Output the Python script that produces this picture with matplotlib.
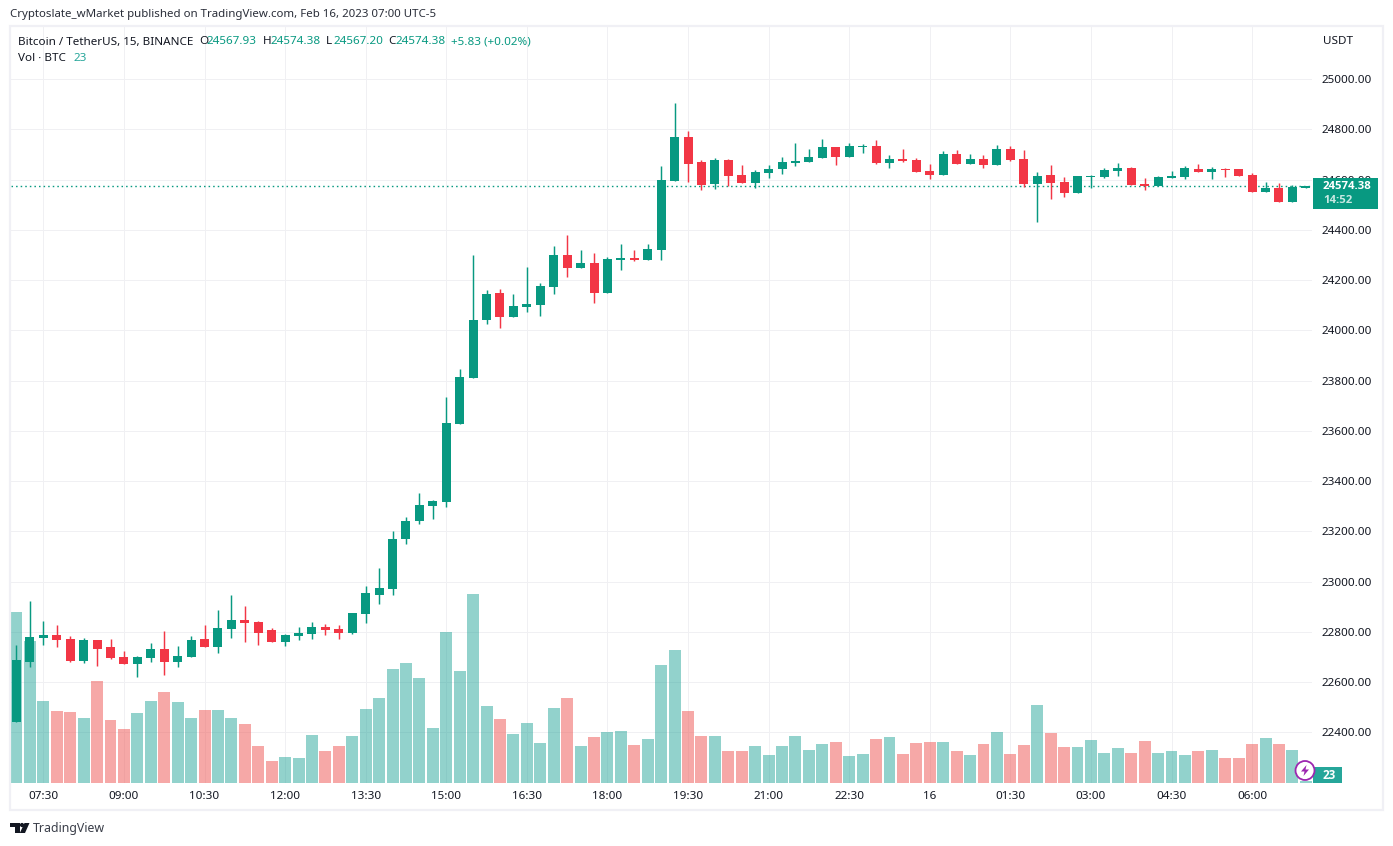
import numpy as np
import matplotlib
matplotlib.use("Agg")
import matplotlib.pyplot as plt
from matplotlib.patches import Rectangle, Circle, Polygon

# --- BTC/USDT 15 min, precios ---
OPENS = [22441, 22681, 22777, 22789, 22773, 22685, 22769, 22741, 22701, 22673,
         22697, 22733, 22681, 22701, 22773, 22741, 22809, 22845, 22837, 22805,
         22761, 22785, 22793, 22817, 22809, 22797, 22869, 22948, 22972, 23170,
         23242, 23301, 23317, 23627, 23809, 24041, 24149, 24053, 24093, 24101,
         24173, 24300, 24248, 24268, 24149, 24280, 24288, 24280, 24320, 24595,
         24770, 24671, 24583, 24679, 24617, 24585, 24625, 24641, 24665, 24669,
         24685, 24729, 24689, 24729, 24733, 24665, 24681, 24677, 24633, 24617,
         24701, 24661, 24681, 24657, 24721, 24681, 24581, 24617, 24590, 24546,
         24609, 24609, 24633, 24644, 24582, 24574, 24605, 24609, 24641, 24629,
         24641, 24641, 24617, 24550, 24566, 24511, 24567.93]
HIGHS = [22749, 22922, 22841, 22825, 22785, 22777, 22769, 22773, 22725, 22705,
         22757, 22801, 22745, 22785, 22825, 22885, 22946, 22902, 22841, 22813,
         22793, 22817, 22837, 22829, 22825, 22873, 22982, 23055, 23202, 23258,
         23353, 23325, 23734, 23845, 24300, 24161, 24165, 24145, 24252, 24189,
         24336, 24380, 24320, 24308, 24292, 24344, 24320, 24344, 24655, 24906,
         24794, 24679, 24687, 24683, 24657, 24637, 24657, 24689, 24745, 24721,
         24761, 24729, 24745, 24741, 24757, 24697, 24721, 24685, 24661, 24713,
         24717, 24701, 24697, 24737, 24733, 24717, 24629, 24656, 24609, 24613,
         24617, 24644, 24664, 24648, 24605, 24613, 24633, 24652, 24660, 24648,
         24644, 24641, 24625, 24590, 24586, 24578, 24574.38]
LOWS = [22441, 22661, 22749, 22741, 22681, 22677, 22665, 22693, 22673, 22621,
        22681, 22629, 22661, 22701, 22741, 22717, 22777, 22761, 22749, 22761,
        22745, 22769, 22773, 22789, 22773, 22793, 22833, 22912, 22948, 23151,
        23230, 23250, 23297, 23627, 23809, 24025, 24009, 24053, 24073, 24057,
        24145, 24212, 24248, 24109, 24149, 24240, 24276, 24280, 24280, 24595,
        24591, 24559, 24563, 24575, 24585, 24565, 24605, 24621, 24653, 24669,
        24685, 24657, 24689, 24705, 24661, 24645, 24669, 24629, 24601, 24617,
        24661, 24661, 24645, 24657, 24673, 24569, 24429, 24523, 24531, 24546,
        24566, 24605, 24613, 24578, 24558, 24574, 24605, 24601, 24629, 24601,
        24609, 24613, 24550, 24550, 24511, 24511, 24567.20]
CLOSES = [22689, 22781, 22789, 22769, 22685, 22769, 22733, 22697, 22673, 22701,
          22733, 22681, 22705, 22769, 22741, 22813, 22845, 22833, 22797, 22761,
          22789, 22797, 22817, 22805, 22797, 22873, 22954, 22976, 23170, 23242,
          23305, 23321, 23631, 23813, 24041, 24145, 24053, 24097, 24105, 24177,
          24300, 24248, 24268, 24149, 24284, 24288, 24280, 24324, 24599, 24770,
          24663, 24579, 24679, 24615, 24585, 24629, 24641, 24669, 24673, 24689,
          24729, 24689, 24733, 24733, 24665, 24681, 24673, 24629, 24617, 24701,
          24661, 24681, 24657, 24721, 24677, 24581, 24613, 24586, 24546, 24613,
          24613, 24637, 24644, 24578, 24574, 24609, 24613, 24644, 24629, 24641,
          24637, 24613, 24550, 24566, 24511, 24570, 24574.38]
VOLUMES = [2560, 2125, 1225, 1075, 1060, 970, 1525, 940, 805, 1045,
           1225, 1360, 1210, 970, 1090, 1090, 970, 880, 550, 325,
           385, 370, 715, 475, 550, 700, 1105, 1270, 1705, 1795,
           1570, 820, 2260, 1675, 2835, 1155, 960, 735, 900, 600,
           1125, 1275, 555, 690, 765, 780, 570, 660, 1770, 1995,
           1080, 705, 705, 480, 480, 555, 420, 555, 705, 495,
           585, 615, 405, 435, 660, 690, 435, 600, 615, 615,
           480, 420, 585, 765, 435, 570, 1170, 750, 540, 540,
           645, 450, 525, 450, 630, 450, 480, 420, 480, 495,
           375, 375, 585, 675, 585, 495, 23]

TIME_LABELS = ["07:30", "09:00", "10:30", "12:00", "13:30", "15:00", "16:30", "18:00",
               "19:30", "21:00", "22:30", "16", "01:30", "03:00", "04:30", "06:00"]
PRICE_TICKS = list(range(22400, 25001, 200))
LAST_PRICE = 24574.38

GREEN = "#089981"
RED = "#f23645"
VOL_GREEN = "#26a69a"
VOL_RED = "#ef5350"
GRID = "#f0f0f3"
TEXT = "#131722"

plt.rcParams["font.family"] = ["Noto Sans", "DejaVu Sans"]
FS = 8.4

W, H = 1393, 846
fig = plt.figure(figsize=(W / 100, H / 100), dpi=100, facecolor="white")

# zona del grafico en pixeles: x 10.5-1312, y 27-783
L, R, T, B = 10.5, 1312, 27, 783
ax = fig.add_axes([L / W, 1 - B / H, (R - L) / W, (B - T) / H])
vol = ax.twinx()
ax.set_zorder(vol.get_zorder() + 1)
ax.patch.set_visible(False)
vol.patch.set_facecolor("white")

x = np.arange(len(CLOSES))
o, h, l, c = map(np.array, (OPENS, HIGHS, LOWS, CLOSES))
up = c >= o
time_ticks = x[2::6][:len(TIME_LABELS)]

# velas
colors = np.where(up, GREEN, RED)
ax.vlines(x, l, h, colors=colors, lw=1.05, zorder=3)
ax.bar(x, np.abs(c - o), bottom=np.minimum(o, c), width=0.67, color=colors, lw=0, zorder=4)
ax.axhline(LAST_PRICE, color=GREEN, lw=1.0, ls=(0, (1.1, 2.2)), zorder=2)

ax.set_xlim(-0.4467, 96.46)
ax.set_ylim(22198, 25207)
ax.set_yticks(PRICE_TICKS)
ax.set_yticklabels([f"{p}.00" for p in PRICE_TICKS])
ax.yaxis.tick_right()
ax.set_xticks(time_ticks)
ax.set_xticklabels(TIME_LABELS)
ax.tick_params(axis="both", length=0, labelsize=FS, labelcolor=TEXT)
ax.tick_params(axis="y", pad=7.2)
ax.tick_params(axis="x", pad=6.0)
for s in ax.spines.values():
    s.set_visible(False)

# volumen, detras de las velas
vol.bar(x, VOLUMES, width=0.89, color=np.where(up, VOL_GREEN, VOL_RED), alpha=0.5, lw=0, zorder=3)
vol.set_ylim(0, 11340)
vol.set_yticks([])
for t in time_ticks:
    vol.axvline(t, color=GRID, lw=0.72, zorder=1)
for p in PRICE_TICKS:
    yy = (p - 22198) / (25207 - 22198) * 11340
    vol.axhline(yy, color=GRID, lw=0.72, zorder=1)
for s in vol.spines.values():
    s.set_visible(False)

# capa en pixeles para marco, rotulos y logo
ov = fig.add_axes([0, 0, 1, 1], zorder=10)
ov.set_xlim(0, W)
ov.set_ylim(H, 0)
ov.axis("off")
ov.patch.set_alpha(0)

ov.add_patch(Rectangle((9.5, 26.5), 1373, 784, fill=False, ec="#f0f0f5", lw=1.6))


def label(px, py, s, color=TEXT, size=FS, **kw):
    ov.text(px, py, s, color=color, fontsize=size, va="center", **kw)


label(10, 14.5, "Cryptoslate_wMarket published on TradingView.com, Feb 16, 2023 07:00 UTC-5", color="#2a2e39", size=8.28)
label(18, 42, "Bitcoin / TetherUS, 15, BINANCE")
for px, key, val in [(199, "O", "24567.93"), (263, "H", "24574.38"), (326, "L", "24567.20"), (388, "C", "24574.38")]:
    label(px, 42, key)
    label(px + 7.5, 42, val, color=GREEN)
label(451, 42, "+5.83 (+0.02%)", color=GREEN)
label(18, 58.5, "Vol · BTC")
label(74, 58.5, "23", color=VOL_GREEN)
label(1323, 41, "USDT")

# etiqueta del ultimo precio
ov.add_patch(Rectangle((1312.5, 178), 65.5, 31, fc=GREEN, ec="none"))
label(1347, 186.5, "24574.38", color="white", size=8.2, ha="center", family="Open Sans", fontweight="bold")
label(1323, 200.5, "14:52", color="#c8e8e2", size=8.2, family="Open Sans", fontweight="bold")

# etiqueta de volumen y rayo
ov.add_patch(Rectangle((1313, 767), 29, 16, fc=VOL_GREEN, ec="none"))
label(1329, 775.5, "23", color="white", size=FS, ha="center", family="Open Sans", fontweight="bold")
ov.add_patch(Circle((1305, 770.5), 9.5, fc="white", ec="#9c27b0", lw=1.3))
ov.add_patch(Polygon([(1306.5, 765), (1301, 771.5), (1304.5, 771.5), (1303.5, 776), (1309, 769.5), (1305.5, 769.5)],
                     closed=True, fc="#9c27b0", ec="none"))

# logo TradingView
ov.add_patch(Polygon([(10, 823), (19.5, 823), (19.5, 833), (15, 833), (15, 827.5), (10, 827.5)], closed=True, fc=TEXT, ec="none"))
ov.add_patch(Circle((22, 825), 2.1, fc=TEXT, ec="none"))
ov.add_patch(Polygon([(24.5, 823), (29.5, 823), (25, 833), (19.8, 833)], closed=True, fc=TEXT, ec="none"))
label(33, 828.5, "TradingView", color="#3a3e49", size=8.9)

fig.savefig("out.png", dpi=100)
